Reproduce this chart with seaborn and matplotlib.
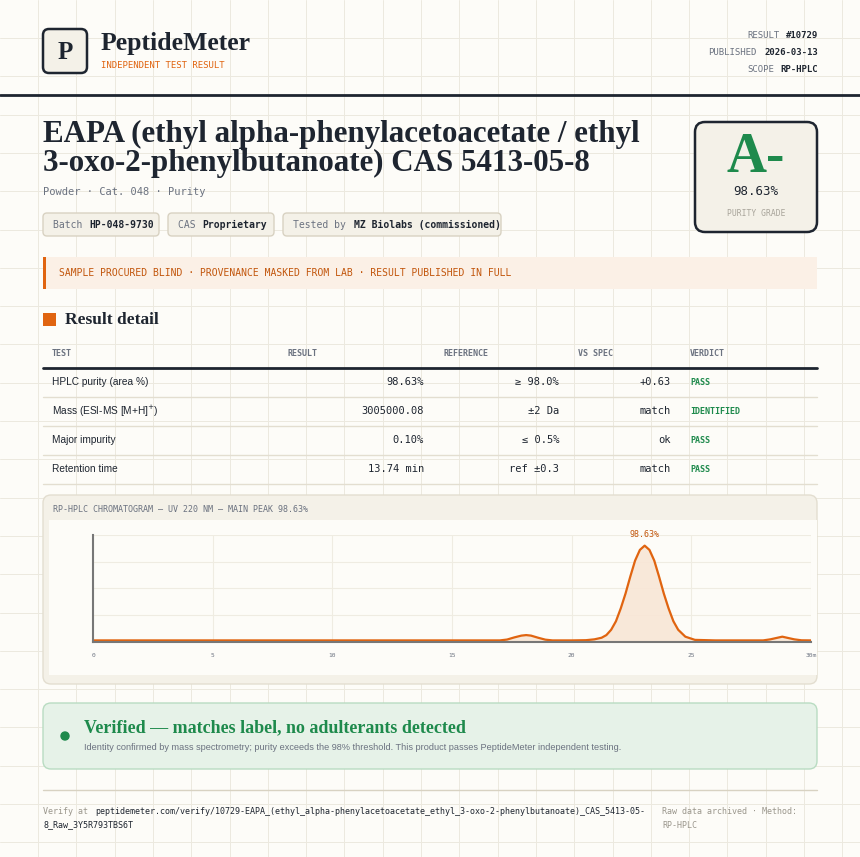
import numpy as np
import pandas as pd
import matplotlib
matplotlib.use("Agg")
import matplotlib.pyplot as plt
import seaborn as sns
from matplotlib.patches import FancyBboxPatch, Rectangle

# ---- data ----
meta_labels = ["RESULT", "PUBLISHED", "SCOPE"]
meta_values = ["#10729", "2026-03-13", "RP-HPLC"]
chips = [("Batch", "HP-048-9730"), ("CAS", "Proprietary"), ("Tested by", "MZ Biolabs (commissioned)")]
columns = ["TEST", "RESULT", "REFERENCE", "VS SPEC", "VERDICT"]
tests = ["HPLC purity (area %)", "Mass (ESI-MS [M+H]$^{+}$)", "Major impurity", "Retention time"]
results = ["98.63%", "3005000.08", "0.10%", "13.74 min"]
references = ["≥ 98.0%", "±2 Da", "≤ 0.5%", "ref ±0.3"]
vs_spec = ["+0.63", "match", "ok", "match"]
verdicts = ["PASS", "IDENTIFIED", "PASS", "PASS"]

# chromatogram (minutes, relative absorbance)
rt = [0, 5, 10, 15, 17.0, 17.3, 17.6, 17.9, 18.1, 18.3, 18.6, 18.9, 19.2, 20, 20.6, 20.95,
      21.25, 21.45, 21.65, 21.85, 22.05, 22.25, 22.45, 22.65, 22.85, 23.05, 23.25, 23.45,
      23.65, 23.85, 24.05, 24.25, 24.45, 24.75, 25.15, 26, 28.0, 28.3, 28.6, 28.8, 29.0,
      29.3, 29.6, 30]
signal = [0.01, 0.01, 0.01, 0.01, 0.01, 0.018, 0.038, 0.055, 0.06, 0.055, 0.035, 0.017,
          0.01, 0.01, 0.012, 0.02, 0.035, 0.06, 0.11, 0.19, 0.31, 0.45, 0.61, 0.76, 0.86, 0.9,
          0.86, 0.76, 0.61, 0.45, 0.31, 0.19, 0.11, 0.045, 0.015, 0.01, 0.01, 0.02, 0.035,
          0.045, 0.035, 0.02, 0.011, 0.01]
peak_label = "98.63%"

W, H = 860, 857
ink = "#1e2530"
orange = "#e06410"
green = "#1e8a4c"
muted = "#6b7280"
mono = ["DejaVu Sans Mono"]
serif = ["Liberation Serif", "DejaVu Serif"]
sans = ["Liberation Sans", "DejaVu Sans"]

sns.set_theme(style="white")
plt.rcParams["font.family"] = sans

fig = plt.figure(figsize=(W / 100, H / 100), dpi=100, facecolor="#fdfcf8")
cv = fig.add_axes([0, 0, 1, 1])
cv.set_xlim(0, W)
cv.set_ylim(H, 0)
cv.axis("off")
cv.set_facecolor("#fdfcf8")

# faint background grid
for gx in np.arange(38, W, 38.3):
    cv.axvline(gx, color="#ece9df", lw=0.7, zorder=0)
for gy in np.arange(38, H, 38.3):
    cv.axhline(gy, color="#ece9df", lw=0.7, zorder=0)


def box(x, y, w, h, fc, ec, lw=1, r=4, z=1):
    cv.add_patch(FancyBboxPatch((x, y), w, h, boxstyle=f"round,pad=0,rounding_size={r}",
                                fc=fc, ec=ec, lw=lw, zorder=z))


# header
box(43, 29, 44, 44, "#f4f1e8", ink, lw=1.8, r=6, z=2)
cv.text(65, 52, "P", family=serif, weight="bold", fontsize=18, color=ink, ha="center", va="center", zorder=3)
cv.text(101, 43, "PeptideMeter", family=serif, weight="bold", fontsize=18.5, color=ink, va="center")
cv.text(101, 65, "INDEPENDENT TEST RESULT", family=mono, fontsize=6.5, color=orange, va="center")
for i, (lab, val) in enumerate(zip(meta_labels, meta_values)):
    y = 35 + i * 17
    cv.text(818, y, val, family=mono, fontsize=6.5, weight="bold", color=ink, ha="right", va="center")
    cv.text(818 - 6.5 * 0.62 * 1.39 * len(val) - 5, y, lab, family=mono, fontsize=6.5, color=muted, ha="right", va="center")
cv.plot([0, W], [95, 95], color=ink, lw=2)

# title
cv.text(43, 134, "EAPA (ethyl alpha-phenylacetoacetate / ethyl", family=serif, weight="bold", fontsize=22.3, color=ink, va="center")
cv.text(43, 163, "3-oxo-2-phenylbutanoate) CAS 5413-05-8", family=serif, weight="bold", fontsize=22.3, color=ink, va="center")
cv.text(43, 192, "Powder · Cat. 048 · Purity", family=mono, fontsize=7.5, color=muted, va="center")

cx = 43
chip_w = [116, 106, 218]
for (lab, val), cw in zip(chips, chip_w):
    box(cx, 213, cw, 23, "#f4f1e8", "#d8d2c2", lw=1, r=4)
    cv.text(cx + 10, 224.5, lab + " ", family=mono, fontsize=7, color=muted, va="center")
    cv.text(cx + 10 + len(lab + " ") * 6.05, 224.5, val, family=mono, fontsize=7, weight="bold", color=ink, va="center")
    cx += cw + 9

# grade card
box(695, 122, 122, 110, "#f4f1e8", ink, lw=1.8, r=10)
cv.text(756, 158, "A-", family=serif, weight="bold", fontsize=40, color=green, ha="center", va="center")
cv.text(756, 191, "98.63%", family=mono, fontsize=9, color=ink, ha="center", va="center")
cv.text(756, 213, "PURITY GRADE", family=mono, fontsize=5.8, color="#a8a49a", ha="center", va="center")

# notice banner
cv.add_patch(Rectangle((43, 257), 774, 32, fc="#fbf0e6", ec="none"))
cv.add_patch(Rectangle((43, 257), 2.5, 32, fc=orange, ec="none"))
cv.text(59, 273, "SAMPLE PROCURED BLIND · PROVENANCE MASKED FROM LAB · RESULT PUBLISHED IN FULL",
        family=mono, fontsize=7, color="#c2560c", va="center")

# result detail table
cv.add_patch(Rectangle((43, 313), 13, 13, fc=orange, ec="none"))
cv.text(65, 320, "Result detail", family=serif, weight="bold", fontsize=12.5, color=ink, va="center")
head_x = [52, 288, 443, 578, 690]
for hx, c in zip(head_x, columns):
    cv.text(hx, 353, c, family=mono, fontsize=6, weight="bold", color=muted, va="center")
cv.plot([43, 817], [367.5, 367.5], color=ink, lw=2)
for i in range(len(tests)):
    y = 382 + i * 29
    cv.text(52, y, tests[i], family=sans, fontsize=7.3, color=ink, va="center")
    cv.text(424, y, results[i], family=mono, fontsize=7.5, color=ink, ha="right", va="center")
    cv.text(559, y, references[i], family=mono, fontsize=7.5, color=ink, ha="right", va="center")
    cv.text(671, y, vs_spec[i], family=mono, fontsize=7.5, color=ink, ha="right", va="center")
    cv.text(690, y, verdicts[i], family=mono, fontsize=6, weight="bold", color=green, va="center")
    cv.plot([43, 817], [y + 14.5, y + 14.5], color="#e3ded0", lw=1)

# chromatogram panel
box(43, 495, 774, 189, "#f4f1e8", "#e3ded0", lw=1, r=8)
cv.add_patch(Rectangle((49, 520), 768, 155, fc="#fdfcf8", ec="none", zorder=1.5))
cv.text(53, 510, "RP-HPLC CHROMATOGRAM — UV 220 NM — MAIN PEAK 98.63%", family=mono, fontsize=6, color=muted, va="center")

ax = fig.add_axes([93 / W, 1 - 642 / H, 718 / W, 107 / H])
ax.set_facecolor("#fdfcf8")
df = pd.DataFrame({"rt": rt, "signal": signal})
ax.fill_between(df["rt"], 0, df["signal"], color="#f8e6d6", alpha=0.9)
sns.lineplot(data=df, x="rt", y="signal", ax=ax, color=orange, lw=1.6)
ax.set_xlim(0, 30)
ax.set_ylim(-0.005, 1.0)
ax.set_xticks([0, 5, 10, 15, 20, 25, 30])
ax.set_xticklabels(["0", "5", "10", "15", "20", "25", "30m"], family=mono, fontsize=4.5, color=muted)
ax.set_yticks([0.25, 0.5, 0.75, 1.0])
ax.set_yticklabels([])
ax.tick_params(length=0, pad=8)
ax.grid(True, color="#efece2", lw=0.8)
ax.set_xlabel("")
ax.set_ylabel("")
for s in ["top", "right"]:
    ax.spines[s].set_visible(False)
for s in ["left", "bottom"]:
    ax.spines[s].set_color("#777777")
    ax.spines[s].set_linewidth(1.5)
pk = int(np.argmax(signal))
ax.annotate(peak_label, (rt[pk], signal[pk]), xytext=(0, 6), textcoords="offset points",
            ha="center", family=mono, fontsize=6, color="#c2560c")

# verified banner
box(43, 703, 774, 66, "#e6f2e8", "#b9dcc2", lw=1, r=8)
cv.add_patch(plt.Circle((65, 736), 4, color=green))
cv.text(84, 728, "Verified — matches label, no adulterants detected", family=serif, weight="bold", fontsize=13, color=green, va="center")
cv.text(84, 748, "Identity confirmed by mass spectrometry; purity exceeds the 98% threshold. This product passes PeptideMeter independent testing.",
        family=sans, fontsize=6.6, color=muted, va="center")

# footer
cv.plot([43, 817], [790, 790], color="#d8d2c2", lw=1)
cv.text(43, 811, "Verify at ", family=mono, fontsize=6, color="#9a968c", va="center")
cv.text(43 + 10 * 5.2, 811, "peptidemeter.com/verify/10729-EAPA_(ethyl_alpha-phenylacetoacetate_ethyl_3-oxo-2-phenylbutanoate)_CAS_5413-05-",
        family=mono, fontsize=6, color=ink, va="center")
cv.text(43, 825, "8_Raw_3Y5R793TBS6T", family=mono, fontsize=6, color=ink, va="center")
cv.text(662, 811, "Raw data archived · Method:", family=mono, fontsize=6, color="#9a968c", va="center")
cv.text(662, 825, "RP-HPLC", family=mono, fontsize=6, color="#9a968c", va="center")

fig.savefig("out.png", dpi=100, facecolor=fig.get_facecolor())
